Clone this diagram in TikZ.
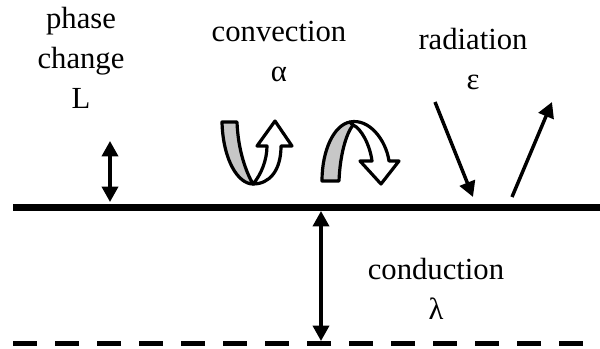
\documentclass[tikz,border=0pt]{standalone}
\usepackage{fontspec}
\setmainfont{Liberation Serif}
\newfontfamily\lserif{Liberation Serif}
\usetikzlibrary{arrows.meta}
\begin{document}
\begin{tikzpicture}[x=0.75pt,y=-0.75pt,
  lbl/.style={align=center,inner sep=0pt,font=\lserif\fontsize{23}{30}\selectfont},
  surf/.style={line width=5.6pt},
  base/.style={line width=3.75pt,dash pattern=on 18pt off 13.5pt},
  flux/.style={line width=2.6pt,{Triangle[length=11.5pt,width=12pt]}-{Triangle[length=11.5pt,width=12pt]}},
  ray/.style={line width=2.6pt,-{Triangle[length=11.5pt,width=12pt]}},
  ribbon/.style={line width=2.4pt,line join=round},
  back/.style={ribbon,fill=black!22},
  front/.style={ribbon,fill=white}]
\useasboundingbox (0,0) rectangle (600,349);
% surfaces
\coordinate (sL) at (13,207.5);
\coordinate (sR) at (600,207.5);
\coordinate (dL) at (13,343.5);
\coordinate (dR) at (583,343.5);
\draw[surf] (sL) -- (sR);
\draw[base] (dL) -- (dR);
% labels
\node[lbl] (phase) at (81,58) {phase\\change\\L};
\node[lbl] (conv) at (279,51) {convection\\α};
\node[lbl] (rad) at (473,59) {radiation\\ε};
\node[lbl] (cond) at (436,289) {conduction\\λ};
% phase change arrow
\coordinate (pT) at (110,141);
\coordinate (pB) at (110,202);
\draw[flux] (pT) -- (pB);
% conduction arrow
\coordinate (cT) at (321,211);
\coordinate (cB) at (321,341);
\draw[flux] (cT) -- (cB);
% radiation
\coordinate (r1) at (435,102);
\coordinate (r2) at (473,197);
\coordinate (r3) at (512,197);
\coordinate (r4) at (552,102);
\draw[ray] (r1) -- (r2);
\draw[ray] (r3) -- (r4);
% convection U arrow
\draw[back] (222,122) -- (237,122)
  .. controls (238,150) and (246,172) .. (253,184)
  .. controls (238,184) and (223,160) .. (222,122) -- cycle;
\draw[front] (253,184) .. controls (261,175) and (267,160) .. (267,146)
  -- (257,146) -- (275,121) -- (292,146) -- (281,146)
  .. controls (281,170) and (270,184) .. (253,184) -- cycle;
% convection cap arrow
\draw[back] (322,181) -- (339,181)
  .. controls (340,155) and (346,134) .. (353,125)
  -- (350,122)
  .. controls (334,125) and (322,150) .. (322,181) -- cycle;
\draw[front] (350,122) .. controls (369,118) and (386,140) .. (389,161)
  -- (399,161) -- (381,184) -- (360,161) -- (372,161)
  .. controls (370,145) and (361,128) .. (353,125) -- cycle;
\end{tikzpicture}
\end{document}
